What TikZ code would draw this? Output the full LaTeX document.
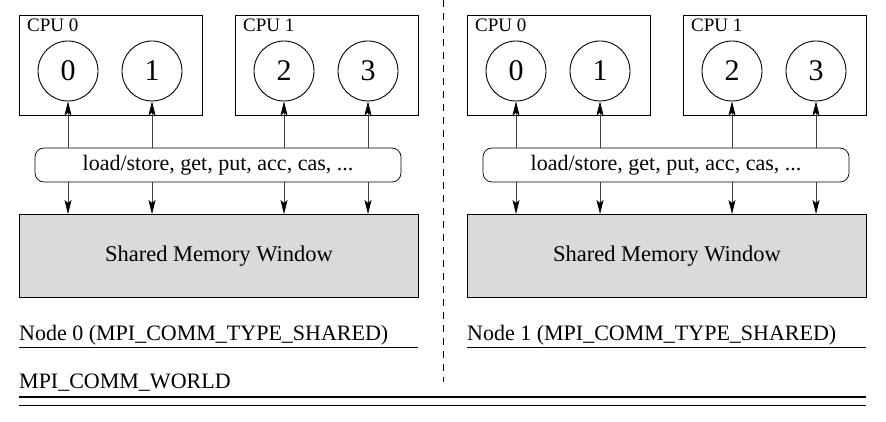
\documentclass[tikz,border=0pt]{standalone}
\usepackage{fontspec}
\setmainfont{Liberation Serif}
\usetikzlibrary{arrows.meta}
\definecolor{memgray}{RGB}{218,218,218}
\tikzset{
  box/.style={draw, line width=0.9pt, minimum width=183pt, minimum height=100pt, anchor=north west, inner sep=0pt},
  proc/.style={draw, circle, line width=0.9pt, minimum size=60pt, inner sep=0pt, font=\fontsize{30}{32}\selectfont},
  cpulab/.style={anchor=base west, inner sep=0pt, font=\fontsize{19}{21}\selectfont},
  ops/.style={draw, line width=0.7pt, rounded corners=9pt, minimum width=366pt, minimum height=34pt, inner sep=0pt, font=\fontsize{22}{24}\selectfont},
  mem/.style={draw, fill=memgray, line width=0.9pt, minimum width=399pt, minimum height=83pt, anchor=north west, inner sep=0pt, font=\fontsize{22.5}{24}\selectfont},
  lab/.style={anchor=base west, inner sep=0pt, font=\fontsize{22}{24}\selectfont},
  arr/.style={line width=0.6pt, draw=black!75, -{Stealth[length=14pt,width=7pt,inset=3pt,color=black]}},
  rule/.style={line width=1pt},
  sep/.style={line width=0.8pt, dash pattern=on 7pt off 6pt}
}
\begin{document}
\begin{tikzpicture}[x=1pt,y=-1pt]
\useasboundingbox (0,0) rectangle (886,422);
\foreach \h/\dx in {0/0,1/448}{
  \begin{scope}[xshift=\dx pt]
    \node[box] (cpuA\h) at (19,15) {};
    \node[box] (cpuB\h) at (235,15) {};
    \node[cpulab] (cpuAl\h) at (27,32) {CPU 0};
    \node[cpulab] (cpuBl\h) at (243,32) {CPU 1};
    \node[proc] (p0\h) at (68,71) {0};
    \node[proc] (p1\h) at (152,71) {1};
    \node[proc] (p2\h) at (284,71) {2};
    \node[proc] (p3\h) at (368,71) {3};
    \node[ops] (ops\h) at (218,165) {load/store, get, put, acc, cas, ...};
    \node[mem] (mem\h) at (19,214) {Shared Memory Window};
    \foreach \p in {0,1,2,3}{
      \draw[arr] (ops\h.north -| p\p\h) -- (p\p\h.south);
      \draw[arr] (ops\h.south -| p\p\h) -- (mem\h.north -| p\p\h);
    }
    \node[lab] (nl\h) at (19,340) {Node \h\ (MPI\_COMM\_TYPE\_SHARED)};
    \coordinate (ua\h) at (19,347);
    \coordinate (ub\h) at (418,347);
    \draw[rule] (ua\h) -- (ub\h);
  \end{scope}
}
\node[lab] (world) at (19,388) {MPI\_COMM\_WORLD};
\coordinate (wa1) at (19,397);
\coordinate (wb1) at (866,397);
\coordinate (wa2) at (19,405);
\coordinate (wb2) at (866,405);
\draw[line width=1.4pt] (wa1) -- (wb1);
\draw[line width=1pt] (wa2) -- (wb2);
\coordinate (sa) at (443,0);
\coordinate (sb) at (443,382);
\draw[sep] (sa) -- (sb);
\end{tikzpicture}
\end{document}
